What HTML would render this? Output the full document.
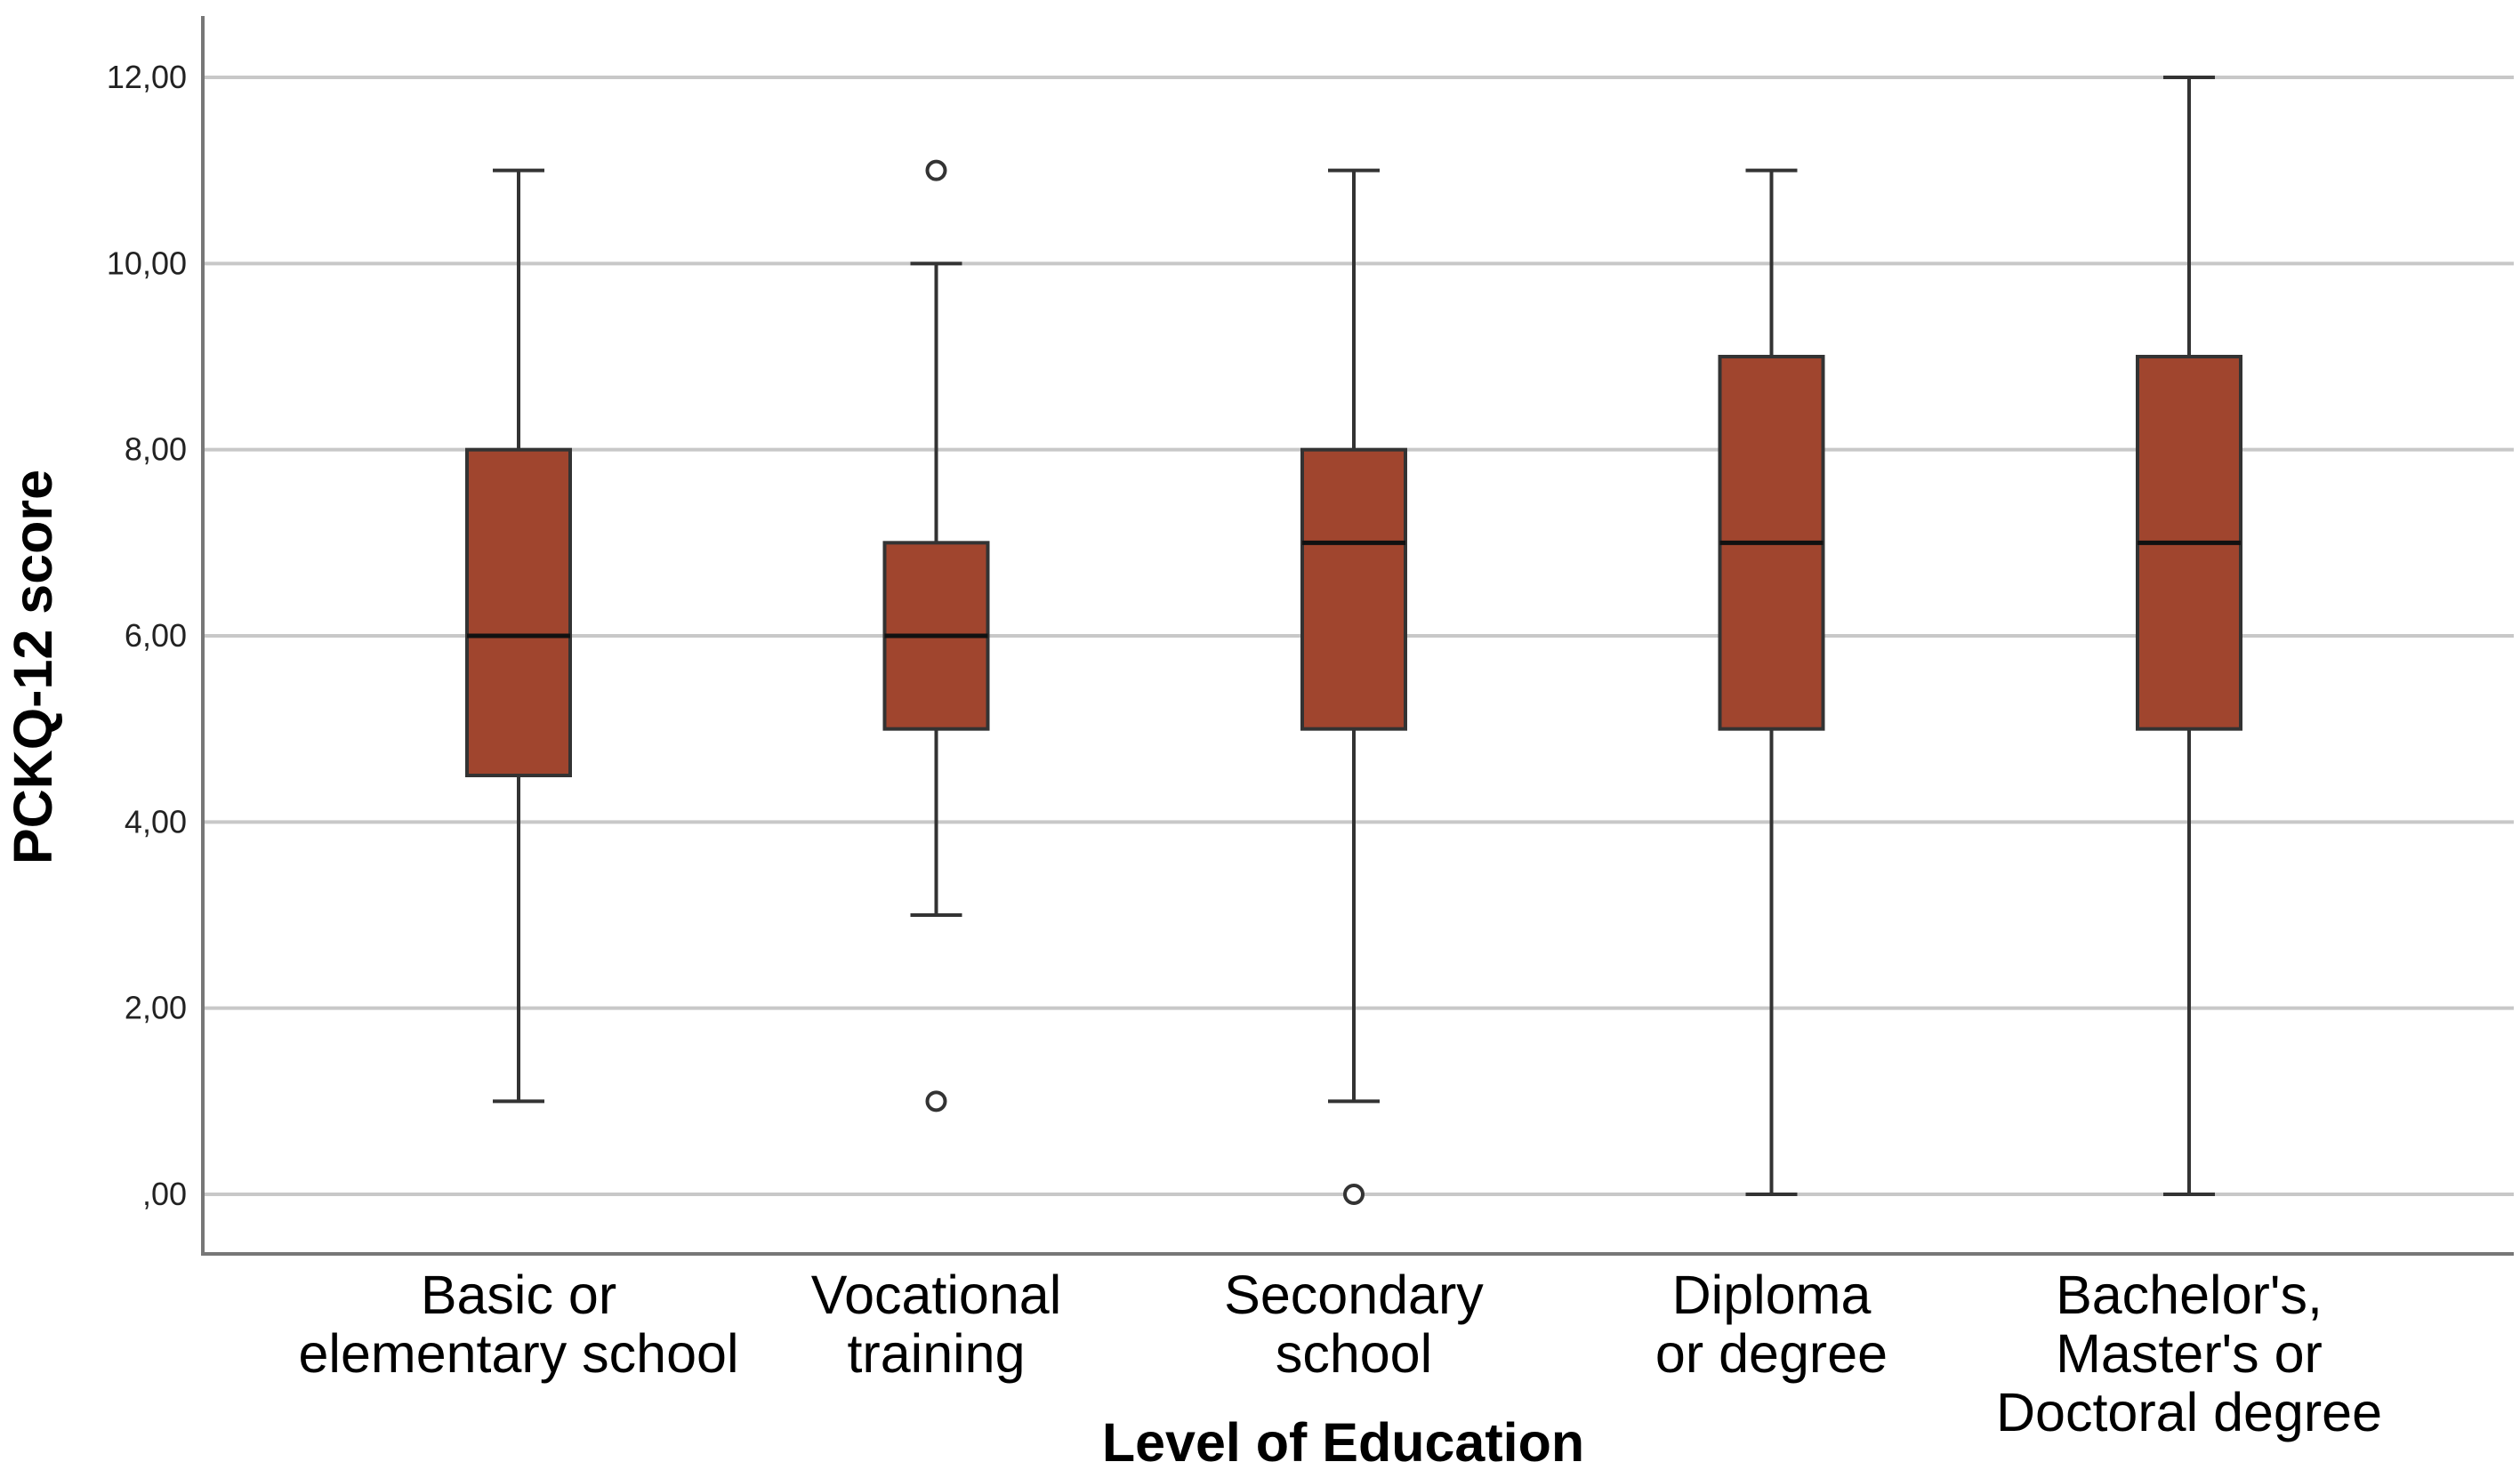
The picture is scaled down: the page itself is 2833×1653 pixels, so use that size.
<!DOCTYPE html>
<html><head><meta charset="utf-8"><style>
body{margin:0;background:#fff;}
svg{display:block;font-family:"Liberation Sans",Arial,sans-serif;}
</style></head><body>
<svg id="chart" width="2833" height="1653" viewBox="0 0 2833 1653" xmlns="http://www.w3.org/2000/svg">
<g id="grid"></g>
<g id="yticks"></g>
<g id="boxes"></g>
<line x1="228" y1="18" x2="228" y2="1410" stroke="#777" stroke-width="4"/>
<line x1="226" y1="1410" x2="2826" y2="1410" stroke="#777" stroke-width="4"/>
<g id="xlabels" font-size="61" text-anchor="middle" fill="#000"></g>
<text x="1510" y="1643" font-size="61" font-weight="bold" text-anchor="middle">Level of Education</text>
<text transform="translate(58,750) rotate(-90)" font-size="61" font-weight="bold" text-anchor="middle">PCKQ-12 score</text>
</svg>
<script>
const categories=[["Basic or","elementary school"],["Vocational","training"],["Secondary","school"],["Diploma","or degree"],["Bachelor's,","Master's or","Doctoral degree"]];
const mins=[1,3,1,0,0];
const q1s=[4.5,5,5,5,5];
const medians=[6,6,7,7,7];
const q3s=[8,7,8,9,9];
const maxs=[11,10,11,11,12];
const outliers=[[],[11,1],[0],[],[]];
const yTicks=[0,2,4,6,8,10,12];
const yTickLabels=[",00","2,00","4,00","6,00","8,00","10,00","12,00"];
const NS="http://www.w3.org/2000/svg";
function y(v){return 1343-(1343-87)*v/12;}
function x(i){return 583+i*469.5;}
function mk(tag,attrs,parent){const e=document.createElementNS(NS,tag);for(const k in attrs)e.setAttribute(k,attrs[k]);parent.appendChild(e);return e;}
const grid=document.getElementById('grid'),yt=document.getElementById('yticks'),bx=document.getElementById('boxes'),xl=document.getElementById('xlabels');
yTicks.forEach((t,i)=>{
 const l=mk('line',{x1:230,x2:2826,y1:y(t),y2:y(t),stroke:'#c8c8c8','stroke-width':4},grid);
 
 
 const tx=mk('text',{x:210,y:y(t)+12,'font-size':36,'text-anchor':'end',fill:'#222'},yt);
 tx.textContent=yTickLabels[i];
 
 
});
const hw=58,cw=29;
categories.forEach((c,i)=>{
 const cx=x(i);
 const g=mk('g',{},bx);
 
 
 const st={stroke:'#333','stroke-width':4};
 mk('line',Object.assign({x1:cx,x2:cx,y1:y(maxs[i]),y2:y(q3s[i])},st),g);
 mk('line',Object.assign({x1:cx,x2:cx,y1:y(q1s[i]),y2:y(mins[i])},st),g);
 mk('line',Object.assign({x1:cx-cw,x2:cx+cw,y1:y(maxs[i]),y2:y(maxs[i])},st),g);
 mk('line',Object.assign({x1:cx-cw,x2:cx+cw,y1:y(mins[i]),y2:y(mins[i])},st),g);
 mk('rect',{x:cx-hw,y:y(q3s[i]),width:2*hw,height:y(q1s[i])-y(q3s[i]),fill:'#a0452e',stroke:'#333','stroke-width':4},g);
 mk('line',{x1:cx-hw,x2:cx+hw,y1:y(medians[i]),y2:y(medians[i]),stroke:'#111','stroke-width':5},g);
 outliers[i].forEach(o=>{
  const c2=mk('circle',{cx:cx,cy:y(o),r:10,fill:'#fff',stroke:'#333','stroke-width':4},g);
  
  
 });
 const t=mk('text',{x:cx,y:1477},xl);
 
 
 c.forEach((line,j)=>{const s=mk('tspan',{x:cx,dy:j?66:0},t);s.textContent=line;});
});
</script>
</body></html>
